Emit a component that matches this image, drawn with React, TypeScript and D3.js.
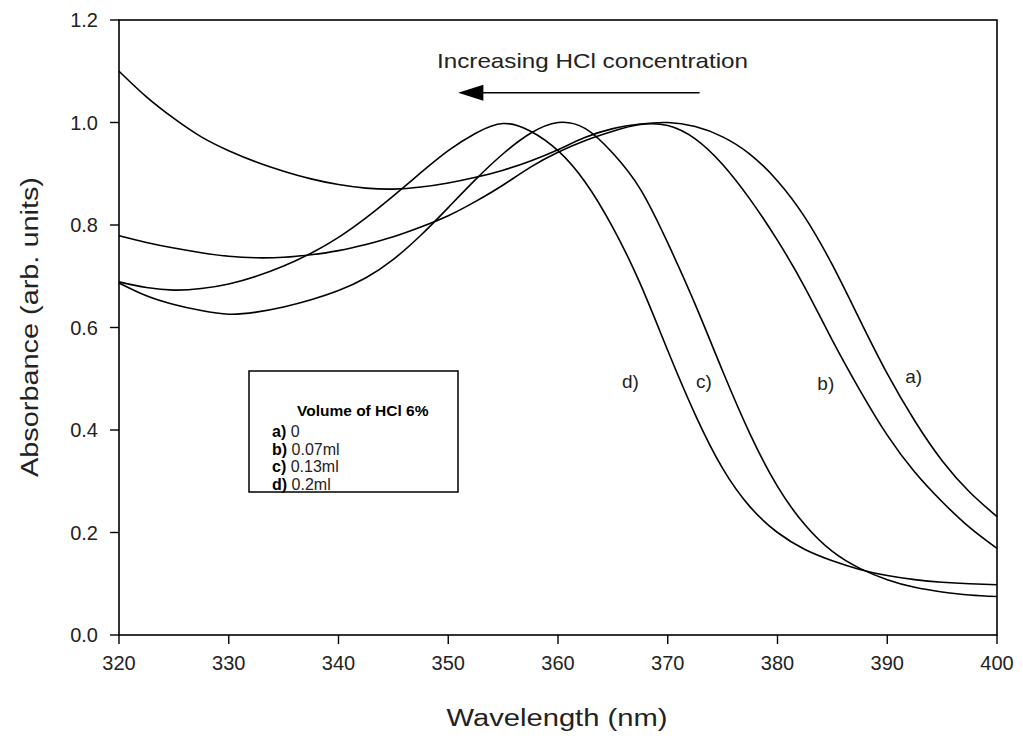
import React from "react";
import * as d3 from "d3";

const wavelengths = [320, 322.5, 325, 327.5, 330, 332.5, 335, 337.5, 340, 342.5, 345, 347.5, 350, 352.5, 355, 357.5, 360, 362.5, 365, 367.5, 370, 372.5, 375, 377.5, 380, 382.5, 385, 387.5, 390, 392.5, 395, 397.5, 400];

const seriesA = [1.1, 1.05, 1.008, 0.972, 0.945, 0.923, 0.905, 0.89, 0.879, 0.872, 0.87, 0.874, 0.882, 0.893, 0.907, 0.925, 0.947, 0.971, 0.988, 0.997, 1.0, 0.992, 0.972, 0.938, 0.886, 0.815, 0.722, 0.615, 0.51, 0.418, 0.34, 0.279, 0.231];
const seriesB = [0.779, 0.766, 0.755, 0.746, 0.739, 0.736, 0.737, 0.742, 0.75, 0.762, 0.777, 0.796, 0.818, 0.846, 0.878, 0.913, 0.942, 0.965, 0.983, 0.996, 0.994, 0.968, 0.918, 0.85, 0.77, 0.678, 0.575, 0.478, 0.39, 0.318, 0.26, 0.21, 0.169];
const seriesC = [0.687, 0.662, 0.645, 0.633, 0.626, 0.63, 0.64, 0.654, 0.672, 0.697, 0.733, 0.78, 0.834, 0.889, 0.939, 0.979, 1.0, 0.988, 0.94, 0.87, 0.765, 0.645, 0.515, 0.392, 0.29, 0.215, 0.163, 0.13, 0.108, 0.093, 0.084, 0.078, 0.075];
const seriesD = [0.689, 0.678, 0.673, 0.676, 0.685, 0.7, 0.72, 0.745, 0.776, 0.814, 0.857, 0.902, 0.945, 0.979, 0.998, 0.983, 0.945, 0.883, 0.795, 0.685, 0.555, 0.43, 0.325, 0.25, 0.2, 0.167, 0.145, 0.128, 0.116, 0.108, 0.103, 0.1, 0.098];

const xTicks = [320, 330, 340, 350, 360, 370, 380, 390, 400];
const yTicks = [0, 0.2, 0.4, 0.6, 0.8, 1.0, 1.2];

const curveLabels = ["a)", "b)", "c)", "d)"];
const curveLabelPos = [
  { x: 392.4, y: 0.505 },
  { x: 384.4, y: 0.491 },
  { x: 373.3, y: 0.495 },
  { x: 366.6, y: 0.495 },
];

const legendTitle = "Volume of HCl 6%";
const legendKeys = ["a)", "b)", "c)", "d)"];
const legendValues = ["0", "0.07ml", "0.13ml", "0.2ml"];

const annotation = "Increasing HCl concentration";

const FONT = "'Liberation Sans', Arial, Helvetica, sans-serif";

export default function App() {
  const W = 1023;
  const H = 740;
  const left = 119;
  const right = 997;
  const top = 20;
  const bottom = 635;

  const x = d3.scaleLinear().domain([320, 400]).range([left, right]);
  const y = d3.scaleLinear().domain([0, 1.2]).range([bottom, top]);

  const line = d3
    .line<[number, number]>()
    .x((d) => x(d[0]))
    .y((d) => y(d[1]))
    .curve(d3.curveNatural);

  const all = [seriesA, seriesB, seriesC, seriesD];
  const arrowY = y(1.058);

  return (
    <div style={{ position: "fixed", left: 0, top: 0, width: W, height: H, background: "#fff" }}>
      <svg width={W} height={H} style={{ display: "block", fontFamily: FONT }}>
        <rect x={0} y={0} width={W} height={H} fill="#fff" />
        {all.map((s, i) => (
          <path
            key={i}
            d={line(wavelengths.map((w, j) => [w, s[j]] as [number, number])) || ""}
            fill="none"
            stroke="#000"
            strokeWidth={1.6}
          />
        ))}
        <rect x={left} y={top} width={right - left} height={bottom - top} fill="none" stroke="#000" strokeWidth={1.6} />
        {xTicks.map((t) => (
          <g key={"x" + t}>
            <line x1={x(t)} x2={x(t)} y1={bottom} y2={bottom + 9} stroke="#000" strokeWidth={1.4} />
            <text x={x(t)} y={bottom + 35} textAnchor="middle" fontSize={20} fill="#222">
              {t}
            </text>
          </g>
        ))}
        {yTicks.map((t) => (
          <g key={"y" + t}>
            <line x1={left - 9} x2={left} y1={y(t)} y2={y(t)} stroke="#000" strokeWidth={1.4} />
            <text x={left - 21} y={y(t)} dy="0.35em" textAnchor="end" fontSize={20} fill="#222">
              {t.toFixed(1)}
            </text>
          </g>
        ))}
        <text
          x={557}
          y={H - 14}
          textAnchor="middle"
          fontSize={23}
          textLength={221}
          lengthAdjust="spacingAndGlyphs"
          fill="#222"
        >
          Wavelength (nm)
        </text>
        <text
          transform={`translate(38, 327) rotate(-90)`}
          textAnchor="middle"
          fontSize={23}
          textLength={300}
          lengthAdjust="spacingAndGlyphs"
          fill="#222"
        >
          Absorbance (arb. units)
        </text>

        {/* annotation */}
        <text x={437} y={68} fontSize={21} textLength={311} lengthAdjust="spacingAndGlyphs" fill="#222">
          {annotation}
        </text>
        <line x1={x(351.5)} x2={x(372.9)} y1={arrowY} y2={arrowY} stroke="#000" strokeWidth={1.5} />
        <path
          d={`M ${x(350.9)} ${arrowY} L ${x(353.2)} ${arrowY - 8} L ${x(353.2)} ${arrowY + 8} Z`}
          fill="#000"
        />

        {curveLabels.map((l, i) => (
          <text
            key={l}
            x={x(curveLabelPos[i].x)}
            y={y(curveLabelPos[i].y)}
            textAnchor="middle"
            dy="0.35em"
            fontSize={19}
            fill="#222"
          >
            {l}
          </text>
        ))}

        {/* legend */}
        <rect x={249} y={371} width={209} height={121} fill="#fff" stroke="#000" strokeWidth={1.5} />
        <text x={297} y={416} fontSize={15.5} fontWeight="bold" fill="#000">
          {legendTitle}
        </text>
        {legendKeys.map((k, i) => (
          <text key={k} x={272} y={437 + i * 17.7} fontSize={16} fill="#222">
            <tspan fontWeight="bold" fill="#000">{k}</tspan>
            <tspan> {legendValues[i]}</tspan>
          </text>
        ))}
      </svg>
    </div>
  );
}
